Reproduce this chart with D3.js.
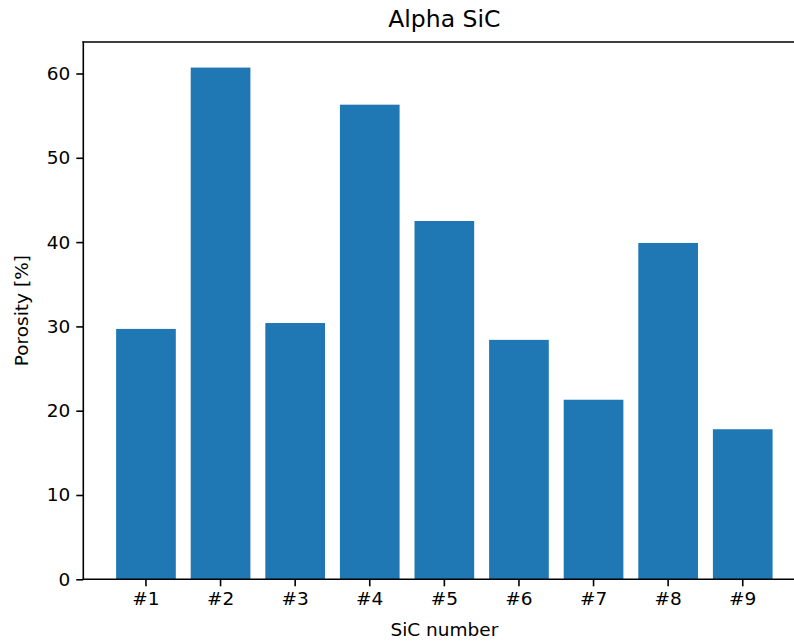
<!DOCTYPE html>
<html>
<head>
<meta charset="utf-8">
<script src="https://cdn.jsdelivr.net/npm/d3@7"></script>
<style>
  html, body { margin: 0; padding: 0; background: #fff; overflow: hidden; }
  svg { display: block; font-family: "DejaVu Sans", sans-serif; }
</style>
</head>
<body>
<svg id="chart" width="794" height="641"></svg>
<script>
// Porosity of alpha SiC samples
const categories = ["#1", "#2", "#3", "#4", "#5", "#6", "#7", "#8", "#9"];
const porosity = [29.7, 60.7, 30.4, 56.3, 42.5, 28.4, 21.3, 39.9, 17.8];
const yTicks = [0, 10, 20, 30, 40, 50, 60];

const m = { left: 83.3, right: 805.4, top: 42, bottom: 579.3 };
const svg = d3.select("#chart");

const x = d3.scaleBand()
  .domain(categories)
  .range([m.left, m.right])
  .paddingInner(0.2)
  .paddingOuter(0.44);

const y = d3.scaleLinear()
  .domain([0, d3.max(porosity) * 1.05])
  .range([m.bottom, m.top]);

// bars
svg.append("g")
  .selectAll("rect")
  .data(porosity)
  .join("rect")
  .attr("x", (d, i) => x(categories[i]))
  .attr("y", d => y(d))
  .attr("width", x.bandwidth())
  .attr("height", d => y(0) - y(d))
  .attr("fill", "#1f77b4");

// axes
const xAxis = d3.axisBottom(x).tickSizeOuter(0).tickSize(7).tickPadding(6);
const yAxis = d3.axisLeft(y).tickValues(yTicks).tickFormat(d3.format("d"))
  .tickSizeOuter(0).tickSize(7).tickPadding(6);

const gx = svg.append("g").attr("transform", `translate(0,${m.bottom})`).call(xAxis);
const gy = svg.append("g").attr("transform", `translate(${m.left},0)`).call(yAxis);

[gx, gy].forEach(g => {
  g.select(".domain").remove();
  g.selectAll(".tick line").attr("stroke", "#000").attr("stroke-width", 1.6);
  g.selectAll(".tick text").attr("fill", "#000")
    .style("font-family", "'DejaVu Sans', sans-serif").style("font-size", "18.5px");
});

// spines (the right one sits past the edge of the canvas)
const spines = [
  [m.left, m.top, m.right, m.top],
  [m.left, m.bottom, m.right, m.bottom],
  [m.left, m.top, m.left, m.bottom],
  [m.right, m.top, m.right, m.bottom]
];
svg.append("g")
  .selectAll("line")
  .data(spines)
  .join("line")
  .attr("x1", d => d[0]).attr("y1", d => d[1])
  .attr("x2", d => d[2]).attr("y2", d => d[3])
  .attr("stroke", "#000").attr("stroke-width", 1.6)
  .attr("stroke-linecap", "square");

// title and labels
svg.append("text")
  .attr("x", (m.left + m.right) / 2).attr("y", 27)
  .attr("text-anchor", "middle")
  .style("font-size", "23.5px")
  .text("Alpha SiC");

svg.append("text")
  .attr("x", (m.left + m.right) / 2).attr("y", 636)
  .attr("text-anchor", "middle")
  .style("font-size", "18.5px")
  .text("SiC number");

svg.append("text")
  .attr("transform", `translate(28,${(m.top + m.bottom) / 2}) rotate(-90)`)
  .attr("text-anchor", "middle")
  .style("font-size", "18.5px")
  .text("Porosity [%]");
</script>
</body>
</html>
